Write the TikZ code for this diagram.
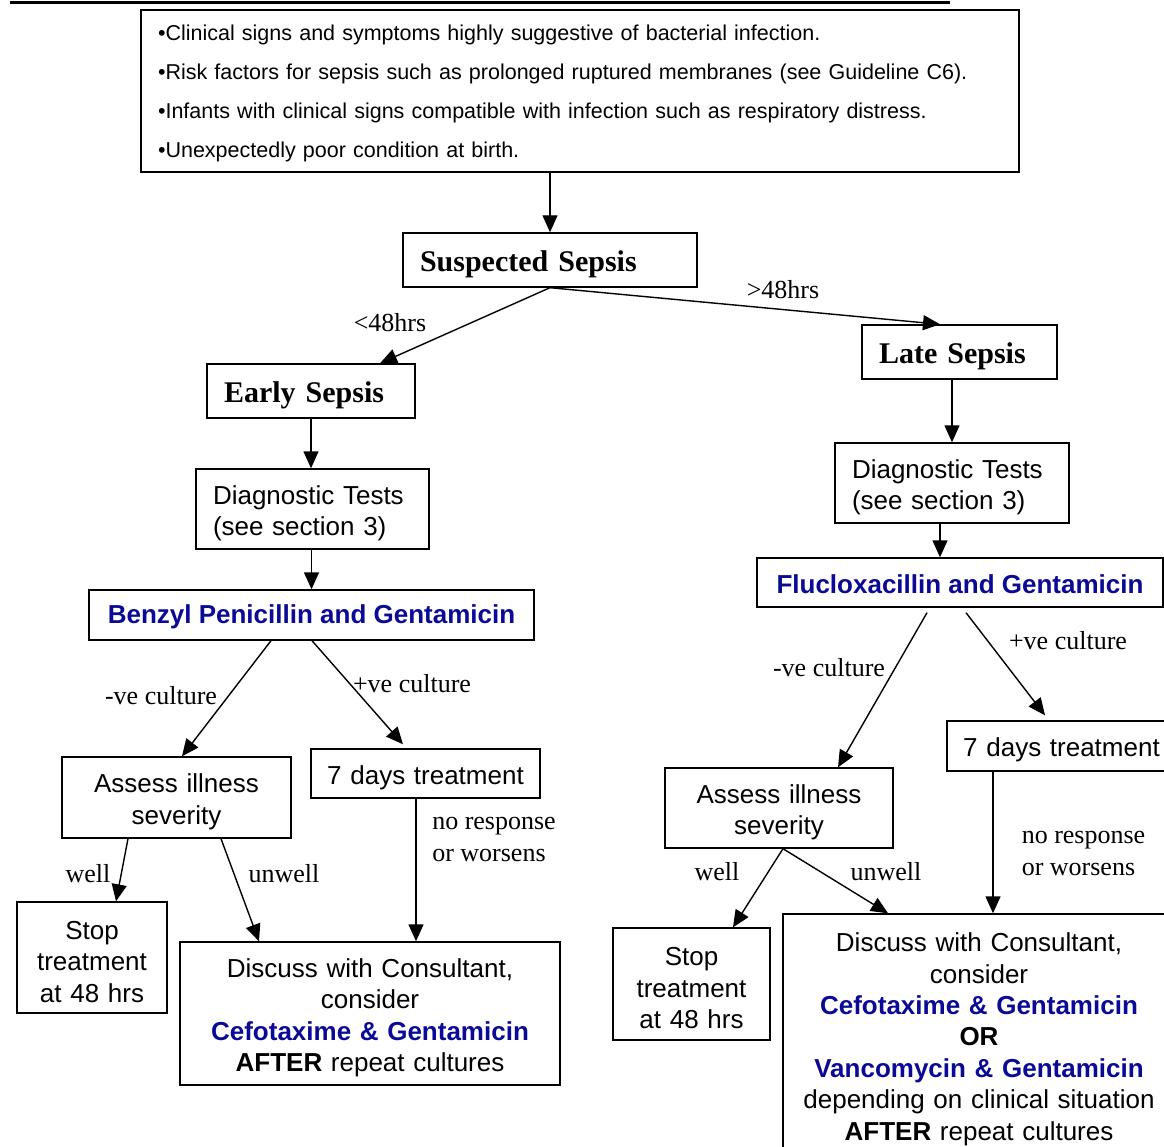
\documentclass[tikz,border=0pt]{standalone}
\usepackage{fontspec}
\setmainfont{Liberation Serif}
\setsansfont{Liberation Sans}
\usetikzlibrary{arrows.meta}
\definecolor{drugblue}{RGB}{10,10,150}

\begin{document}
\begin{tikzpicture}[x=1pt, y=-1pt, line width=1.4pt,
    >={Triangle[length=17pt,width=15pt]},
    base/.style={draw, rectangle, inner sep=0pt, align=center,
      font=\sffamily\fontsize{26}{31.4}\selectfont},
    box/.style={base, execute at begin node={\rule{0pt}{27pt}}},
    lbox/.style={box, align=left, inner xsep=17pt},
    sepsis/.style={base, align=left, inner xsep=17pt, minimum height=54pt,
      font=\bfseries\fontsize{30}{36}\selectfont, execute at begin node={\rule{0pt}{30pt}}},
    drug/.style={base, text=drugblue, font=\sffamily\bfseries\fontsize{26}{31}\selectfont,
      execute at begin node={\rule{0pt}{22pt}}},
    lbl/.style={inner sep=0pt, align=left, font=\fontsize{26}{32}\selectfont}]

    \useasboundingbox (0,0) rectangle (1164,1147);
    \draw [line width=3pt] (10,3) -- (950,3);

    \node [draw, text width=844pt, inner xsep=17pt, inner ysep=0pt, minimum height=162pt, align=left,
      font=\sffamily\fontsize{21.5}{39}\selectfont, execute at begin node={\rule{0pt}{21pt}}] (signs) at (580,91)
      {•Clinical signs and symptoms highly suggestive of bacterial infection.\\
       •Risk factors for sepsis such as prolonged ruptured membranes (see Guideline C6).\\
       •Infants with clinical signs compatible with infection such as respiratory distress.\\
       •Unexpectedly poor condition at birth.};

    \node [sepsis, text width=260pt] (suspected) at (550,260) {Suspected Sepsis};
    \node [sepsis, text width=174pt] (early) at (311,391) {Early Sepsis};
    \node [sepsis, text width=161pt] (late) at (959.5,352) {Late Sepsis};

    \node [lbox, text width=199pt, minimum height=80pt] (diagA) at (312.5,509) {Diagnostic Tests\\(see section 3)};
    \node [lbox, text width=200pt, minimum height=80pt] (diagB) at (952,483) {Diagnostic Tests\\(see section 3)};

    \node [drug, minimum width=445pt, minimum height=50pt] (benzyl) at (311.5,615) {Benzyl Penicillin and Gentamicin};
    \node [drug, minimum width=406pt, minimum height=49pt] (fluclox) at (960,582.5) {Flucloxacillin and Gentamicin};

    \node [box, text width=229pt, minimum height=81pt] (assessA) at (176.5,797.5) {Assess illness\\severity};
    \node [box, text width=229pt, minimum height=49pt] (sevenA) at (425.5,773.5) {7 days treatment};
    \node [box, text width=150pt, minimum height=111pt] (stopA) at (92,957.5) {Stop\\treatment\\at 48 hrs};
    \node [box, text width=380pt, minimum height=143pt] (discussA) at (370,1013.5)
      {Discuss with Consultant,\\consider\\{\color{drugblue}\bfseries Cefotaxime \& Gentamicin}\\{\bfseries AFTER} repeat cultures};

    \node [box, text width=228pt, minimum height=80pt] (assessB) at (779,808) {Assess illness\\severity};
    \node [box, text width=229pt, minimum height=50pt] (sevenB) at (1061.5,746) {7 days treatment};
    \node [box, text width=157pt, minimum height=112pt] (stopB) at (691.5,984) {Stop\\treatment\\at 48 hrs};
    \node [box, text width=392pt, minimum height=242pt] (discussB) at (979,1035)
      {Discuss with Consultant,\\consider\\{\color{drugblue}\bfseries Cefotaxime \& Gentamicin}\\{\bfseries OR}\\
       {\color{drugblue}\bfseries Vancomycin \& Gentamicin}\\depending on clinical situation\\{\bfseries AFTER} repeat cultures};

    \node [lbl] (lessA) at (390,323) {<48hrs};
    \node [lbl] (moreB) at (783,290) {>48hrs};
    \node [lbl] (negA) at (161,696) {-ve culture};
    \node [lbl] (posA) at (412,684) {+ve culture};
    \node [lbl] (wellA) at (88,874) {well};
    \node [lbl] (unwellA) at (284,874) {unwell};
    \node [lbl] (noresA) at (494,839) {no response\\or worsens};
    \node [lbl] (negB) at (829,668) {-ve culture};
    \node [lbl] (posB) at (1068,641) {+ve culture};
    \node [lbl] (wellB) at (717,872) {well};
    \node [lbl] (unwellB) at (886,872) {unwell};
    \node [lbl] (noresB) at (1083.5,853) {no response\\or worsens};

    \draw [->] ([xshift=-30pt]signs.south) to (suspected.north);
    \draw [->] (suspected.south) to ([xshift=69pt]early.north);
    \draw [->] (suspected.south) to ([xshift=-19.5pt]late.north);

    \draw [->] (early.south) to (early.south |- diagA.north);
    \draw [->] (benzyl.north |- diagA.south) to (benzyl.north);
    \draw [->] ([xshift=-40.5pt]benzyl.south) to ([xshift=5.5pt]assessA.north);
    \draw [->] ([xshift=0.5pt]benzyl.south) to ([xshift=-22.5pt,yshift=4pt]sevenA.north);
    \draw [->] ([xshift=-48.5pt]assessA.south) to ([xshift=24pt]stopA.north);
    \draw [->] ([xshift=44.5pt]assessA.south) to ([xshift=-111pt]discussA.north);
    \draw [->] ([xshift=-9.5pt]sevenA.south) to ([xshift=-9.5pt]sevenA.south |- discussA.north);

    \draw [->] (diagB.north |- late.south) to (diagB.north);
    \draw [->] ([xshift=-12pt]diagB.south) to ([xshift=-20pt]fluclox.north);
    \draw [->] ([xshift=-33pt,yshift=-5pt]fluclox.south) to ([xshift=59pt]assessB.north);
    \draw [->] ([xshift=6pt,yshift=-5pt]fluclox.south) to ([xshift=-16.5pt,yshift=5pt]sevenB.north);
    \draw [->] ([xshift=4pt]assessB.south) to ([xshift=41.5pt]stopB.north);
    \draw [->] ([xshift=4pt]assessB.south) to ([xshift=-91pt]discussB.north);
    \draw [->] ([xshift=-68.5pt]sevenB.south) to ([xshift=-68.5pt]sevenB.south |- discussB.north);

  \end{tikzpicture}
\end{document}
